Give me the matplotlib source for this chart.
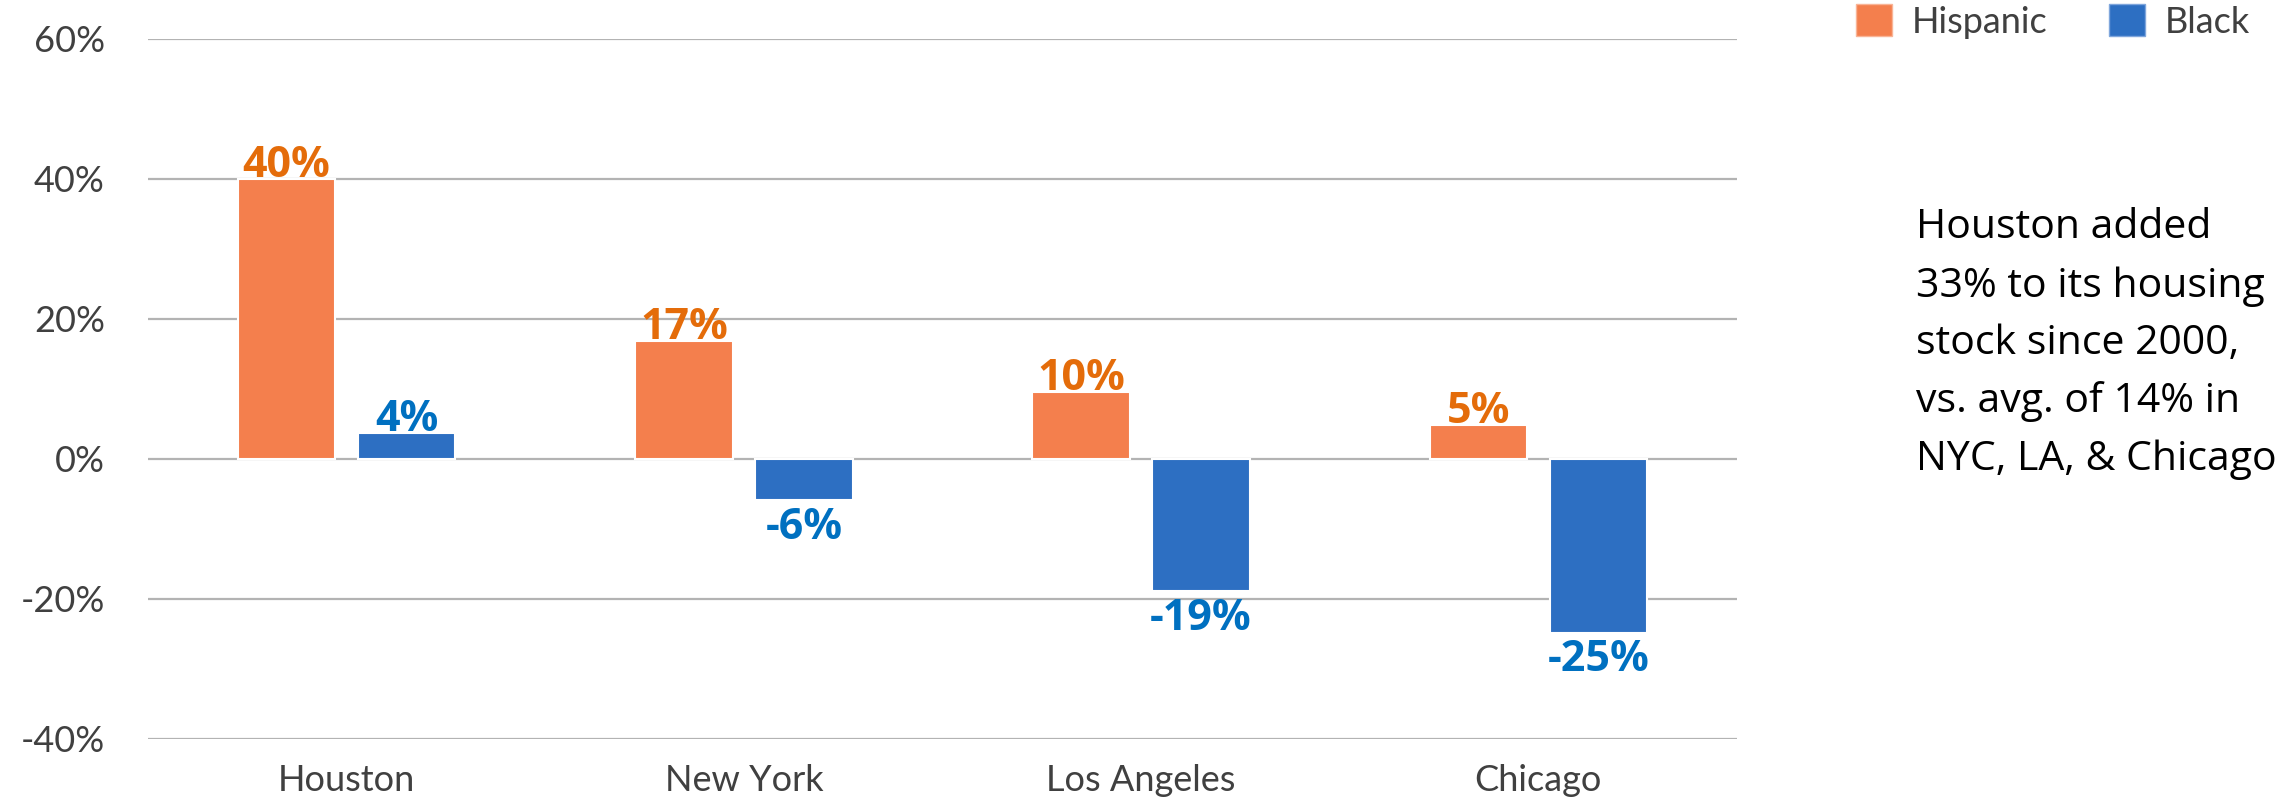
import numpy as np
import matplotlib.pyplot as plt
from matplotlib.patches import Patch

# data
cities = ['Houston', 'New York', 'Los Angeles', 'Chicago']
hispanic = [40.0, 16.8, 9.6, 4.9]
black = [3.7, -5.9, -18.9, -24.8]
y_ticks = [-40, -20, 0, 20, 40, 60]
note_lines = ['Houston added', '33% to its housing', 'stock since 2000,',
              'vs. avg. of 14% in', 'NYC, LA, & Chicago']

orange = '#F47F4D'
blue = '#2D6FC2'
orange_txt = '#E46C0A'
blue_txt = '#0070C0'
grey_txt = '#404040'

W, H = 2278, 802
fig = plt.figure(figsize=(W / 100, H / 100), dpi=100)
ax = fig.add_axes([148 / W, 1 - 739 / H, (1737 - 148) / W, (739 - 39) / H])

x = np.arange(len(cities))
width = 0.245
off = 0.151
b1 = ax.bar(x - off, hispanic, width, color=orange, edgecolor='white', linewidth=1.5, zorder=3)
b2 = ax.bar(x + off, black, width, color=blue, edgecolor='white', linewidth=1.5, zorder=3)

# value labels
for bars, vals, col in [(b1, hispanic, orange_txt), (b2, black, blue_txt)]:
    for rect, v in zip(bars, vals):
        cx = rect.get_x() + rect.get_width() / 2
        if v >= 0:
            ax.annotate(f'{v:.0f}%', (cx, v), xytext=(0, 1.5), textcoords='offset points',
                        ha='center', va='baseline', fontsize=31, fontweight='bold',
                        family='Open Sans', color=col, zorder=4)
        else:
            ax.annotate(f'{v:.0f}%', (cx, v), xytext=(0, -4), textcoords='offset points',
                        ha='center', va='top', fontsize=31, fontweight='bold',
                        family='Open Sans', color=col, zorder=4)

ax.set_xlim(-0.5, len(cities) - 0.5)
ax.set_ylim(-40, 60)
ax.set_yticks(y_ticks)
ax.set_yticklabels([f'{t}%' for t in y_ticks], family='Lato', fontsize=26, color=grey_txt)
ax.set_xticks(x)
ax.set_xticklabels(cities, family='Lato', fontsize=26, color=grey_txt)
ax.tick_params(axis='y', length=0, pad=31)
ax.tick_params(axis='x', length=0, pad=18)
ax.yaxis.grid(True, color='#b3b3b3', linewidth=1.6)
ax.set_axisbelow(True)
for s in ax.spines.values():
    s.set_visible(False)

# legend
handles = [Patch(facecolor=orange, edgecolor='#f9b496', label='Hispanic'),
           Patch(facecolor=blue, edgecolor='#7fa6dc', label='Black')]
leg = fig.legend(handles=handles, loc='upper left', bbox_to_anchor=(1856 / W, 1 - 4 / H),
                 frameon=False, ncol=2, prop={'family': 'Lato', 'size': 26},
                 handlelength=1.0, handleheight=1.0, handletextpad=0.55,
                 columnspacing=1.7, borderpad=0, borderaxespad=0)
for t in leg.get_texts():
    t.set_color(grey_txt)

# side note
baselines = [238, 297, 354, 412, 470]
for line, yb in zip(note_lines, baselines):
    fig.text(1916 / W, 1 - yb / H, line, family='Open Sans', fontsize=29.5,
             color='black', va='baseline', ha='left')

fig.savefig('out.png', dpi=100)
